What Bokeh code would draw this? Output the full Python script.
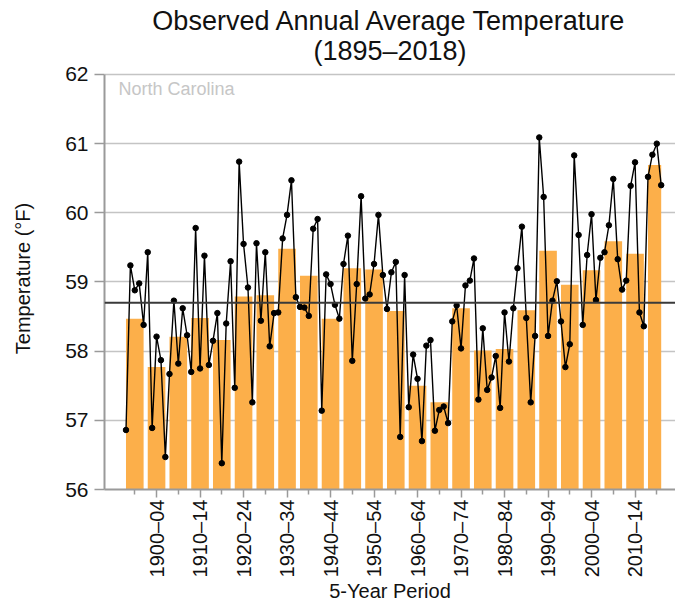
import numpy as np
from bokeh.plotting import figure
from bokeh.models import Range1d, FixedTicker, Span, Label, Title, ColumnDataSource
from bokeh.embed import file_html
from bokeh.resources import INLINE

# ---------------- data ----------------
years = list(range(1895, 2019))
annual_temp = [
    56.86, 59.24, 58.88, 58.98, 58.38,   # 1895-99
    59.43, 56.89, 58.21, 57.87, 56.47,   # 1900-04
    57.67, 58.73, 57.82, 58.62, 58.23,   # 1905-09
    57.70, 59.78, 57.75, 59.38, 57.80,   # 1910-14
    58.15, 58.55, 56.38, 58.40, 59.30,   # 1915-19
    57.47, 60.74, 59.55, 58.92, 57.26,   # 1920-24
    59.56, 58.44, 59.43, 58.07, 58.55,   # 1925-29
    58.56, 59.63, 59.97, 60.47, 58.78,   # 1930-34
    58.64, 58.63, 58.51, 59.77, 59.91,   # 1935-39
    57.14, 59.11, 58.97, 58.67, 58.47,   # 1940-44
    59.26, 59.67, 57.86, 58.97, 60.24,   # 1945-49
    58.76, 58.82, 59.26, 59.97, 59.10,   # 1950-54
    58.61, 59.14, 59.29, 56.76, 59.10,   # 1955-59
    57.19, 57.95, 57.60, 56.70, 58.08,   # 1960-64
    58.16, 56.85, 57.15, 57.20, 56.96,   # 1965-69
    58.43, 58.66, 58.04, 58.95, 59.02,   # 1970-74
    59.34, 57.30, 58.33, 57.44, 57.62,   # 1975-79
    57.93, 57.18, 58.56, 57.85, 58.62,   # 1980-84
    59.20, 59.80, 58.48, 57.26, 58.22,   # 1985-89
    61.09, 60.23, 58.22, 58.73, 59.01,   # 1990-94
    58.43, 57.77, 58.10, 60.83, 59.68,   # 1995-99
    58.38, 59.39, 59.98, 58.74, 59.35,   # 2000-04
    59.43, 59.82, 60.49, 59.33, 58.89,   # 2005-09
    59.02, 60.39, 60.73, 58.56, 58.36,   # 2010-14
    60.52, 60.84, 61.00, 60.40,          # 2015-18
]
periods = [
    "1895–99", "1900–04", "1905–09", "1910–14", "1915–19", "1920–24", "1925–29",
    "1930–34", "1935–39", "1940–44", "1945–49", "1950–54", "1955–59", "1960–64",
    "1965–69", "1970–74", "1975–79", "1980–84", "1985–89", "1990–94", "1995–99",
    "2000–04", "2005–09", "2010–14", "2015–18",
]
period_mean = [
    58.47, 57.77, 58.21, 58.48, 58.16, 58.79, 58.81, 59.48, 59.09, 58.47,
    59.20, 59.18, 58.58, 57.50, 57.26, 58.62, 58.01, 58.03, 58.59, 59.45,
    58.96, 59.17, 59.59, 59.41, 60.69,
]
period_years = [5] * 24 + [4]
long_term_mean = 58.70
y_ticks = [56, 57, 58, 59, 60, 61, 62]

title_1 = "Observed Annual Average Temperature"
title_2 = "(1895–2018)"
x_title = "5-Year Period"
y_title = "Temperature (°F)"
state = "North Carolina"

# ---------------- layout helpers ----------------
BW = 0.81  # bar width in period units
FONT = "Liberation Sans"
FRAME_TOP = 67          # canvas px of frame top; value 62 sits at 74 px
X0, X1 = -1.393, 24.86
Y0, Y1 = 56, 62
PX_PER_X = 571 / (X1 - X0)
PX_PER_Y = 416 / (Y1 - Y0)
Y_TOP = Y1 + (74 - FRAME_TOP) / PX_PER_Y

year_x = [(y - 1895) // 5 - BW / 2 + ((y - 1895) % 5) * BW / 4 for y in years]
bar_left = [k - BW / 2 for k in range(len(periods))]
bar_right = [k - BW / 2 + (n - 1) * BW / 4 for k, n in enumerate(period_years)]

bars = ColumnDataSource(dict(left=bar_left, right=bar_right, top=period_mean,
                             bottom=[50] * len(periods)))
pts = ColumnDataSource(dict(x=year_x, y=annual_temp))

p = figure(width=675, height=605, output_backend="svg", toolbar_location=None,
           title=None, x_range=Range1d(X0, X1), y_range=Range1d(Y0, Y_TOP),
           min_border_left=104, min_border_right=0, min_border_top=FRAME_TOP,
           min_border_bottom=115)
p.outline_line_color = None
p.background_fill_color = "white"

p.quad(left="left", right="right", top="top", bottom="bottom", source=bars,
       fill_color="#FCAF4A", line_color=None)

p.add_layout(Span(location=long_term_mean, dimension="width",
                  line_color="#3a3a3a", line_width=2))

p.line("x", "y", source=pts, line_color="black", line_width=1.4)
p.scatter("x", "y", source=pts, size=5.5, fill_color="black", line_color="black")

# grid
p.xgrid.visible = False
p.ygrid.ticker = FixedTicker(ticks=y_ticks)
p.ygrid.grid_line_color = "#c4c4c4"
p.ygrid.grid_line_width = 1.5

# y axis
p.yaxis.ticker = FixedTicker(ticks=y_ticks)
p.yaxis.bounds = (Y0, Y1)
p.yaxis.axis_label = y_title
p.yaxis.axis_label_text_font = FONT
p.yaxis.axis_label_text_font_size = "20px"
p.yaxis.axis_label_text_font_style = "normal"
p.yaxis.axis_label_text_color = "#111111"
p.yaxis.axis_label_standoff = 28
p.yaxis.major_label_text_font = FONT
p.yaxis.major_label_text_font_size = "21px"
p.yaxis.major_label_text_color = "#111111"
p.yaxis.major_label_standoff = 6
p.yaxis.major_tick_out = 10
p.yaxis.major_tick_in = 0
p.yaxis.minor_tick_out = 0
p.yaxis.minor_tick_in = 0
p.yaxis.major_tick_line_color = "#9a9a9a"
p.yaxis.major_tick_line_width = 1.5
p.yaxis.axis_line_color = "#9a9a9a"
p.yaxis.axis_line_width = 2

# x axis
p.xaxis.ticker = FixedTicker(ticks=list(range(1, len(periods), 2)),
                             minor_ticks=list(range(0, len(periods), 2)))
p.xaxis.major_label_overrides = {k: periods[k] for k in range(1, len(periods), 2)}
p.xaxis.major_label_orientation = np.pi / 2
p.xaxis.major_label_text_font = FONT
p.xaxis.major_label_text_font_size = "20px"
p.xaxis.major_label_text_color = "#111111"
p.xaxis.major_label_standoff = 2
p.xaxis.major_tick_out = 8
p.xaxis.major_tick_in = 0
p.xaxis.minor_tick_out = 5
p.xaxis.minor_tick_in = 0
p.xaxis.major_tick_line_color = "#9a9a9a"
p.xaxis.minor_tick_line_color = "#9a9a9a"
p.xaxis.major_tick_line_width = 1.5
p.xaxis.minor_tick_line_width = 1.5
p.xaxis.axis_line_color = "#9a9a9a"
p.xaxis.axis_line_width = 2
p.xaxis.axis_label = x_title
p.xaxis.axis_label_text_font = FONT
p.xaxis.axis_label_text_font_size = "20px"
p.xaxis.axis_label_text_font_style = "normal"
p.xaxis.axis_label_text_color = "#111111"
p.xaxis.axis_label_standoff = 0

# chart title: second line first (later titles sit farther from the plot)
p.add_layout(Title(text=title_2, align="center", vertical_align="top",
                   text_font=FONT, text_font_size="27px", text_font_style="normal",
                   text_color="#111111", standoff=0), "above")
p.add_layout(Title(text=title_1, align="center", vertical_align="bottom",
                   text_font=FONT, text_font_size="27px", text_font_style="normal",
                   text_color="#111111", standoff=0), "above")

# state label
p.add_layout(Label(x=X0 + 14 / PX_PER_X, y=Y1 - 15 / PX_PER_Y, text=state,
                   text_baseline="middle", text_color="#c6c6c6",
                   text_font=FONT, text_font_size="18px"))

open("out.html", "w").write(file_html(p, INLINE))
